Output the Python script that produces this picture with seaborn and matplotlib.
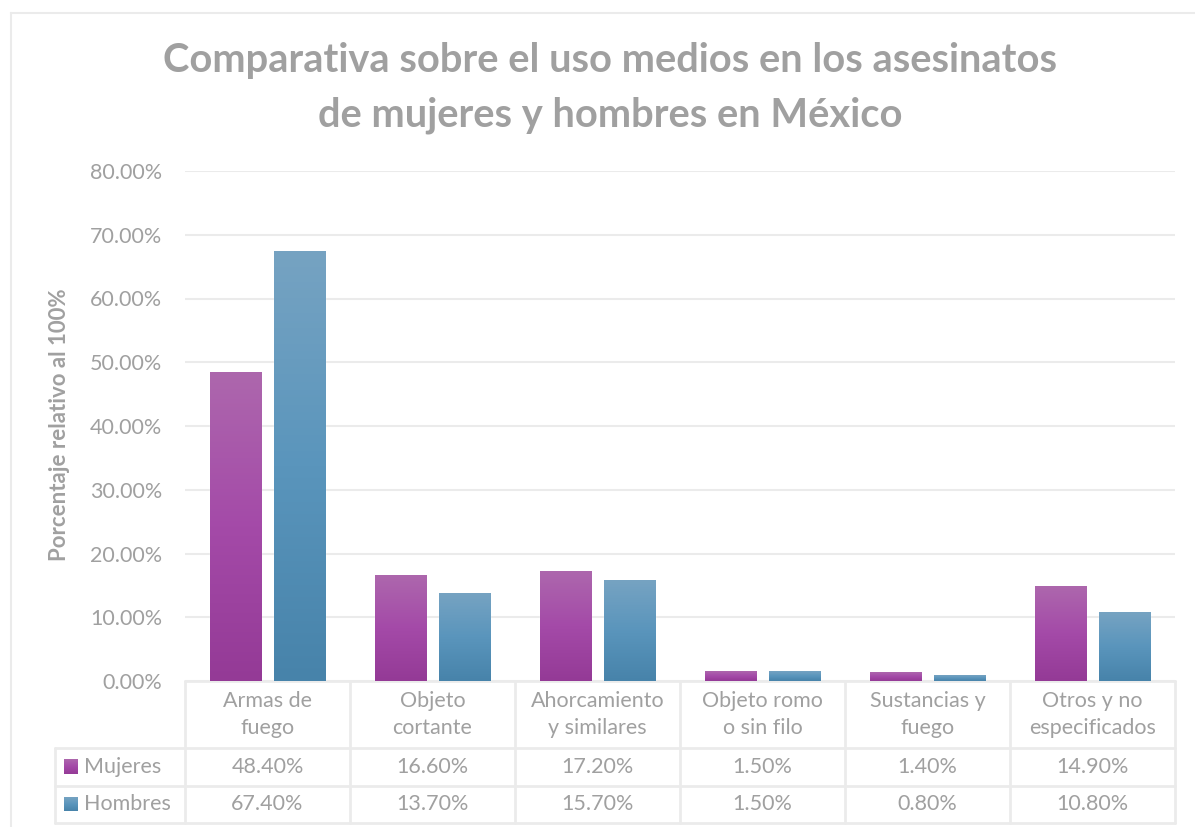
import numpy as np
import pandas as pd
import matplotlib
matplotlib.use('Agg')
import matplotlib.pyplot as plt
import matplotlib.transforms as mtransforms
from matplotlib.colors import LinearSegmentedColormap
import seaborn as sns

# datos
categorias = ['Armas de\nfuego', 'Objeto\ncortante', 'Ahorcamiento\ny similares',
              'Objeto romo\no sin filo', 'Sustancias y\nfuego', 'Otros y no\nespecificados']
mujeres = [48.4, 16.6, 17.2, 1.5, 1.4, 14.9]
hombres = [67.4, 13.7, 15.7, 1.5, 0.8, 10.8]
series = ['Mujeres', 'Hombres']
ticks = [0, 10, 20, 30, 40, 50, 60, 70, 80]

df = pd.DataFrame({
    'Medio': categorias * 2,
    'Sexo': ['Mujeres'] * len(categorias) + ['Hombres'] * len(categorias),
    'Porcentaje': mujeres + hombres,
})

gris = '#A0A0A0'
linea = '#EBEBEB'
colores = {'Mujeres': ['#AD67AD', '#A44AA8', '#943A96'],
           'Hombres': ['#76A3C2', '#5A95BC', '#4783AA']}
fs = 15.5

sns.set_style('white')
plt.rcParams['font.family'] = ['Lato', 'DejaVu Sans']

fig = plt.figure(figsize=(11.95, 8.27), dpi=100)
W, H = 1195, 827
ax = fig.add_axes([185 / W, (H - 681) / H, 990 / W, 510 / H])

sns.barplot(data=df, x='Medio', y='Porcentaje', hue='Sexo', hue_order=series,
            palette={'Mujeres': '#A44AA8', 'Hombres': '#5A95BC'},
            width=0.776, gap=0.19, legend=False, ax=ax, zorder=2)

# degradado en las barras
grad = np.linspace(0, 1, 256).reshape(-1, 1)
for cont, s in zip(ax.containers, series):
    cmap = LinearSegmentedColormap.from_list(s, colores[s])
    for p in cont:
        x0, w, h = p.get_x(), p.get_width(), p.get_height()
        ax.imshow(grad, extent=[x0, x0 + w, 0, h], aspect='auto', cmap=cmap,
                  origin='upper', zorder=3, interpolation='bicubic')

ax.set_xlim(-0.5, len(categorias) - 0.5)
ax.set_ylim(0, 80)
ax.set_yticks(ticks)
ax.set_yticklabels([f'{t:.2f}%' for t in ticks])
ax.set_xticks([])
ax.set_xlabel('')
ax.set_ylabel('')
ax.tick_params(axis='y', colors=gris, labelsize=fs, length=0, pad=16.5)
ax.grid(axis='y', color=linea, lw=1.5, zorder=0)
for sp in ax.spines.values():
    sp.set_visible(False)

# tabla de datos
tr = mtransforms.blended_transform_factory(ax.transData, ax.transAxes)
ppx = 1 / 510
y_head = -(748 - 681) * ppx
y_r1 = -(786 - 681) * ppx
y_r2 = -(823 - 681) * ppx
x_left = -0.5 - 130 / 165
n = len(categorias)
kw = dict(color=linea, lw=2, transform=tr, clip_on=False, zorder=1)
ax.plot([-0.5, n - 0.5], [0, 0], **kw)
for yy in [y_head, y_r1, y_r2]:
    ax.plot([x_left, n - 0.5], [yy, yy], **kw)
for i in range(n + 1):
    ax.plot([i - 0.5, i - 0.5], [0, y_r2], **kw)
ax.plot([x_left, x_left], [y_head, y_r2], **kw)

for i, c in enumerate(categorias):
    ax.text(i, y_head / 2, c, transform=tr, ha='center', va='center',
            color=gris, fontsize=fs, linespacing=1.45)
    ax.text(i, (y_head + y_r1) / 2, f'{mujeres[i]:.2f}%', transform=tr,
            ha='center', va='center', color=gris, fontsize=fs)
    ax.text(i, (y_r1 + y_r2) / 2, f'{hombres[i]:.2f}%', transform=tr,
            ha='center', va='center', color=gris, fontsize=fs)

# leyenda dentro de la tabla
for s, (ya, yb) in zip(series, [(y_head, y_r1), (y_r1, y_r2)]):
    yc = (ya + yb) / 2
    sq = 14 * ppx
    xs = x_left + 9 / 165
    cmap = LinearSegmentedColormap.from_list(s + 'l', colores[s])
    ax.imshow(grad, extent=[xs, xs + 14 / 165, yc - sq / 2, yc + sq / 2],
              aspect='auto', cmap=cmap, origin='upper', transform=tr,
              clip_on=False, zorder=3)
    ax.text(xs + 20 / 165, yc, s, transform=tr, ha='left', va='center',
            color=gris, fontsize=fs)

ax.set_xlim(-0.5, n - 0.5)
ax.set_ylim(0, 80)

fig.text(610 / W, 1 - 88 / H,
         'Comparativa sobre el uso medios en los asesinatos\nde mujeres y hombres en México',
         ha='center', va='center', color=gris, fontsize=28.7, fontweight='bold',
         linespacing=1.6)
fig.text(60 / W, 1 - 425 / H, 'Porcentaje relativo al 100%', rotation=90,
         ha='center', va='center', color=gris, fontsize=16, fontweight='bold')

# borde del área del gráfico
fig.add_artist(plt.Line2D([11 / W, 1], [1 - 13 / H, 1 - 13 / H], color=linea, lw=1.5))
fig.add_artist(plt.Line2D([11 / W, 11 / W], [0, 1 - 13 / H], color=linea, lw=1.5))

fig.savefig('out.png', dpi=100)
